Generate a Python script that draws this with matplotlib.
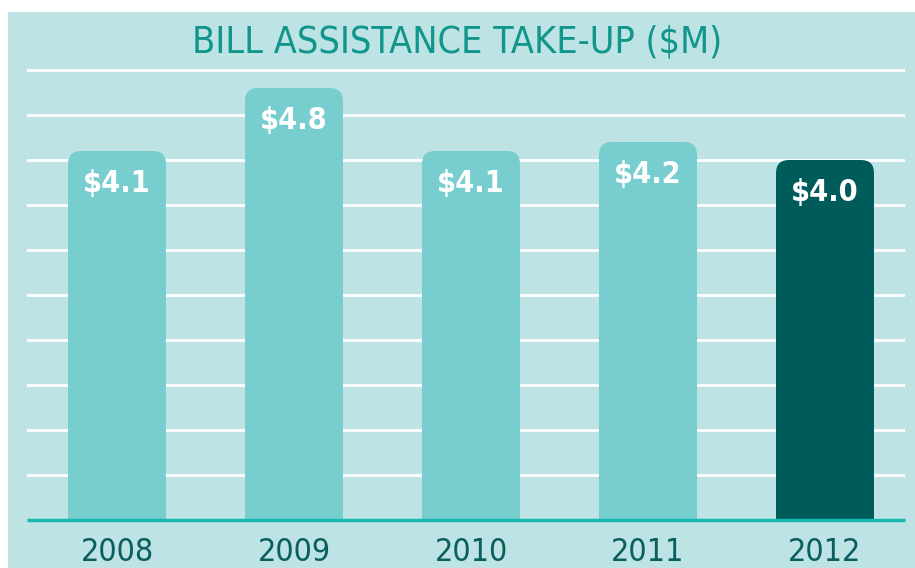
import numpy as np
import matplotlib
matplotlib.use('Agg')
import matplotlib.pyplot as plt
from matplotlib.patches import FancyBboxPatch, Rectangle

plt.rcParams['font.family'] = ['DejaVu Sans']
plt.rcParams['font.stretch'] = 'condensed'

years = ['2008', '2009', '2010', '2011', '2012']
values = [4.1, 4.8, 4.1, 4.2, 4.0]
labels = ['$4.1', '$4.8', '$4.1', '$4.2', '$4.0']
highlight = [False, False, False, False, True]

bg = '#bee3e4'
bar_light = '#78cdcf'
bar_dark = '#005b5b'
title_col = '#10968b'
year_col = '#0b5e5e'

W, H = 915, 568
fig = plt.figure(figsize=(W / 100, H / 100), dpi=100)
fig.patch.set_facecolor('white')
fig.patches.append(Rectangle((8 / W, 0), 1 - 8 / W, 1 - 12 / H,
                             transform=fig.transFigure, facecolor=bg,
                             edgecolor='none', zorder=-5))

# axes: baseline at y=520px, 90px per unit, 177px per category
px_x, px_y = 177.0, 90.0
left_px, right_px = 27, 905
xmin = -(117 - left_px) / px_x
xmax = xmin + (right_px - left_px) / px_x
ymax = 5.1
ax = fig.add_axes([left_px / W, (H - 520) / H, (right_px - left_px) / W, ymax * px_y / H])
ax.set_facecolor('none')
ax.set_xlim(xmin, xmax)
ax.set_ylim(0, ymax)
for s in ax.spines.values():
    s.set_visible(False)
ax.set_xticks([])
ax.set_yticks([])

for g in np.arange(0.5, 5.01, 0.5):
    ax.axhline(g, color='white', lw=2, zorder=1)
ax.plot([xmin, xmax], [0, 0], color='#17b9b0', lw=2.5, zorder=4,
        clip_on=False, solid_capstyle='butt')

bw = 98 / px_x
r = 13 / px_x
for i, (v, lab, hl) in enumerate(zip(values, labels, highlight)):
    col = bar_dark if hl else bar_light
    ax.add_patch(FancyBboxPatch((i - bw / 2, 0), bw, v,
                                boxstyle=f'round,pad=0,rounding_size={r}',
                                mutation_aspect=px_x / px_y,
                                facecolor=col, edgecolor='none', zorder=2))
    ax.add_patch(Rectangle((i - bw / 2, 0), bw, v / 2, facecolor=col,
                           edgecolor='none', zorder=2))
    ax.text(i, v - 0.36, lab, ha='center', va='center', color='white',
            fontsize=22, fontweight='bold', zorder=3)
    ax.text(i, -0.36, years[i], ha='center', va='center', color=year_col,
            fontsize=23, clip_on=False)

fig.text(0.5, 1 - 43 / H, 'BILL ASSISTANCE TAKE-UP ($M)', ha='center',
         va='center', color=title_col, fontsize=27)

fig.savefig('out.png', dpi=100)
